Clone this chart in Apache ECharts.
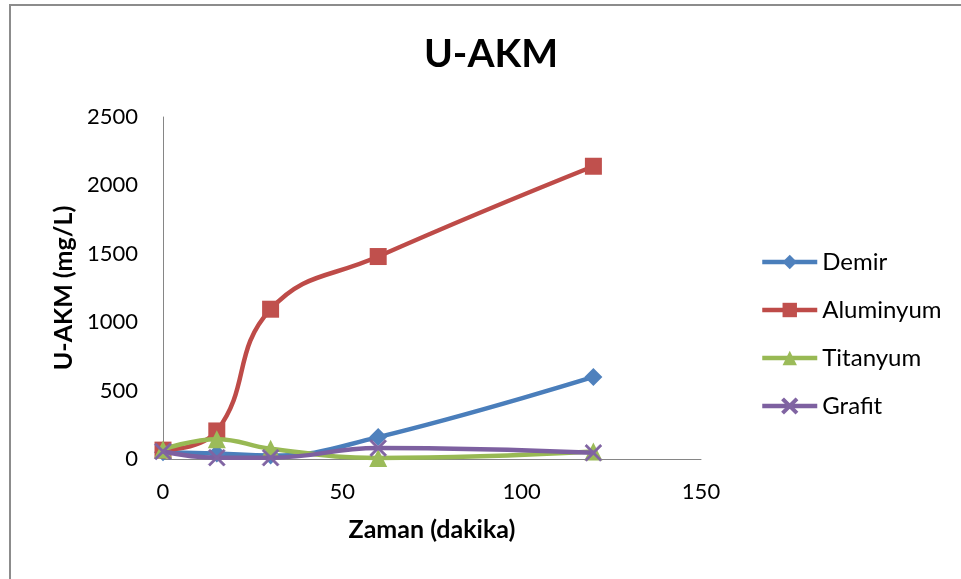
<!DOCTYPE html>
<html>
<head>
<meta charset="utf-8">
<style>
  html, body { margin: 0; padding: 0; background: #ffffff; }
  #chart { width: 961px; height: 579px; }
</style>
<script src="https://cdn.jsdelivr.net/npm/echarts@6/dist/echarts.min.js"></script>
</head>
<body>
<div id="chart"></div>
<script>
// Sampling times (minutes)
const times = [0, 15, 30, 60, 120];

// U-AKM concentration (mg/L) per electrode material
const demir = [50, 40, 25, 160, 600];
const aluminyum = [65, 205, 1095, 1480, 2140];
const titanyum = [70, 145, 75, 8, 55];
const grafit = [55, 10, 10, 80, 45];

const seriesNames = ['Demir', 'Aluminyum', 'Titanyum', 'Grafit'];
const seriesValues = [demir, aluminyum, titanyum, grafit];
const lineColors = ['#4A7EBB', '#BE4B48', '#98B954', '#7D60A0'];
const markerColors = ['#4F81BD', '#C0504D', '#9BBB59', '#8064A2'];

// thin filled "x" marker
const crossPath = 'path://M0,1L1,0L10,9L9,10Z M9,0L10,1L1,10L0,9Z';
const symbols = ['diamond', 'rect', 'triangle', crossPath];
const symbolSizes = [18, 17, 18, 17];

const font = 'Lato, "Liberation Sans", sans-serif';

const series = seriesNames.map((name, i) => ({
  name: name,
  type: 'line',
  smooth: 0.45,
  data: times.map((t, j) => [t, seriesValues[i][j]]),
  symbol: symbols[i],
  symbolSize: symbolSizes[i],
  showSymbol: true,
  lineStyle: { color: lineColors[i], width: 4.5 },
  itemStyle: { color: markerColors[i], borderColor: markerColors[i], borderWidth: i === 3 ? 0.6 : 0 },
  emphasis: { disabled: true },
  z: 2 + i
}));

const chart = echarts.init(document.getElementById('chart'), null, { renderer: 'canvas' });
chart.setOption({
  animation: false,
  backgroundColor: '#ffffff',
  title: {
    text: 'U-AKM',
    left: 491,
    textAlign: 'center',
    top: 35,
    padding: 0,
    textStyle: { fontFamily: font, fontWeight: 'bold', fontSize: 39, color: '#000000' }
  },
  graphic: [{
    type: 'polyline',
    shape: { points: [[10, 579], [10, 5], [961, 5]] },
    style: { stroke: '#8c8c8c', lineWidth: 2, fill: null },
    silent: true
  }],
  grid: { left: 163, right: 260, top: 117, bottom: 120 },
  legend: {
    orient: 'vertical',
    left: 760,
    top: 250,
    padding: 0,
    itemWidth: 55,
    itemHeight: 18,
    itemGap: 24,
    data: seriesNames,
    lineStyle: { width: 4.5 },
    textStyle: { fontFamily: font, fontSize: 24, color: '#000000', padding: [0, 0, 0, 0] }
  },
  xAxis: {
    type: 'value',
    min: 0,
    max: 150,
    interval: 50,
    name: 'Zaman (dakika)',
    nameLocation: 'middle',
    nameGap: 58,
    nameTextStyle: { fontFamily: font, fontWeight: 'bold', fontSize: 25, color: '#000000' },
    axisLine: { show: true, onZero: false, lineStyle: { color: '#868686', width: 1 } },
    axisTick: { show: false },
    splitLine: { show: false },
    axisLabel: { fontFamily: font, fontSize: 22, color: '#000000', margin: 22 }
  },
  yAxis: {
    type: 'value',
    min: 0,
    max: 2500,
    interval: 500,
    name: 'U-AKM (mg/L)',
    nameLocation: 'middle',
    nameRotate: 90,
    nameGap: 85,
    nameTextStyle: { fontFamily: font, fontWeight: 'bold', fontSize: 25, color: '#000000' },
    axisLine: { show: true, lineStyle: { color: '#868686', width: 1 } },
    axisTick: { show: false },
    splitLine: { show: false },
    axisLabel: {
      fontFamily: font, fontSize: 22, color: '#000000', margin: 25,
      formatter: (v) => String(v)
    }
  },
  series: series
});
</script>
</body>
</html>
